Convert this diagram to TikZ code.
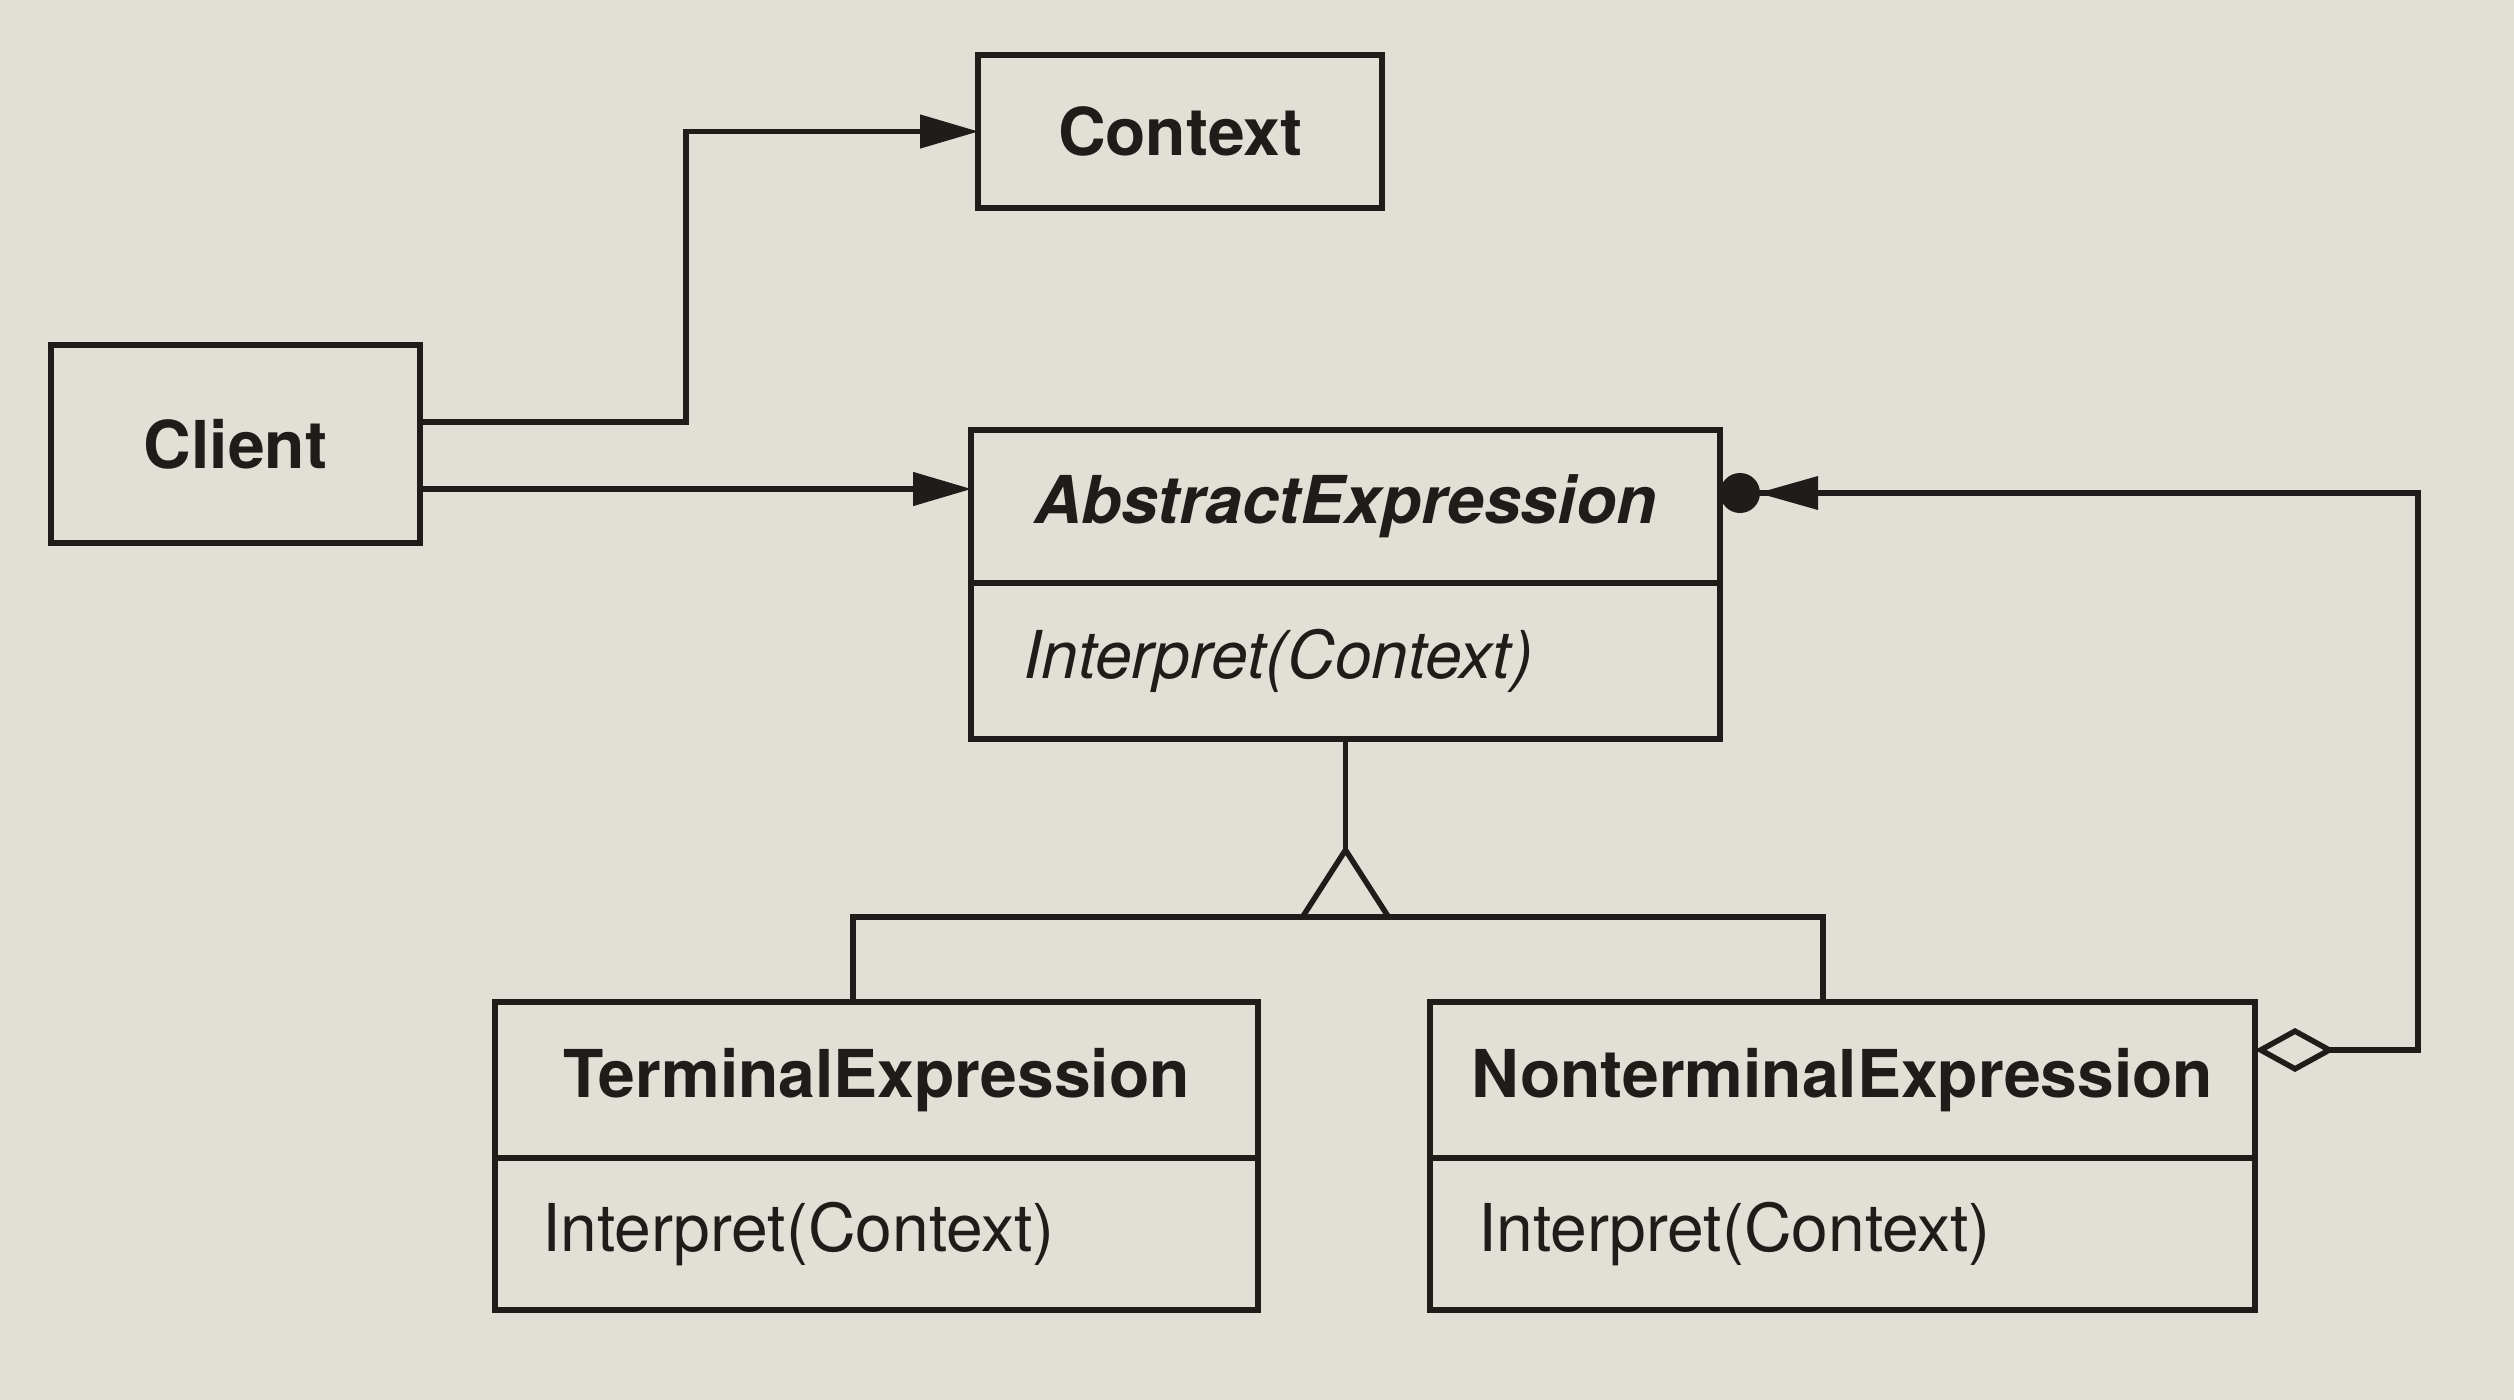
\documentclass[tikz,border=0pt]{standalone}
\usepackage{fontspec}
\setmainfont{TeX Gyre Heros}
\usetikzlibrary{arrows.meta,calc}
\definecolor{paper}{RGB}{226,223,215}
\definecolor{ink}{RGB}{32,28,26}
\begin{document}
\begin{tikzpicture}[x=1pt,y=-1pt,
 every node/.style={font=\fontsize{66}{79}\selectfont, text=ink},
 box/.style={draw=ink, line width=5.5pt, inner sep=0pt, outer sep=0pt, anchor=north west},
 conn/.style={draw=ink, line width=5.5pt},
 tip/.style={-{Triangle[length=58pt,width=34pt,line width=1pt]}},
]
\fill[paper] (0,0) rectangle (2514,1400);
\useasboundingbox (0,0) rectangle (2514,1400);

% Client and Context
\node[box, minimum width=369pt, minimum height=198pt, font=\fontsize{66}{79}\selectfont\bfseries] (Client) at (51,345) {Client};
\node[box, minimum width=404pt, minimum height=153pt, font=\fontsize{66}{79}\selectfont\bfseries] (Context) at (978,55) {Context};

% AbstractExpression
\node[box, minimum width=749pt, minimum height=153pt, font=\fontsize{66}{79}\selectfont\bfseries\itshape] (AEh) at (971,430) {AbstractExpression};
\node[box, minimum height=156pt, text width=645pt, inner xsep=52pt, align=left, font=\fontsize{66}{79}\selectfont\itshape] (AEb) at (AEh.south west) {Interpret(Context)};

% TerminalExpression
\node[box, minimum width=763pt, minimum height=156pt, font=\fontsize{66}{79}\selectfont\bfseries] (TEh) at (495,1002) {TerminalExpression};
\node[box, minimum height=152pt, text width=669pt, inner xsep=47pt, align=left] (TEb) at (TEh.south west) {Interpret(Context)};

% NonterminalExpression
\node[box, minimum width=825pt, minimum height=156pt, font=\fontsize{66}{79}\selectfont\bfseries] (NTh) at (1430,1002) {NonterminalExpression};
\node[box, minimum height=152pt, text width=729pt, inner xsep=48pt, align=left] (NTb) at (NTh.south west) {Interpret(Context)};

% Client -> Context
\coordinate (c1) at (686,422);
\draw[conn, tip] (Client.east |- c1) -- (c1) |- (Context.west);

% Client -> AbstractExpression
\coordinate (c2) at (0,489);
\draw[conn, tip] (Client.east |- c2) -- (AEh.west |- c2);

% Generalization
\coordinate (apex) at ($(AEb.south)+(0,111)$);
\coordinate (bar) at ($(apex)+(0,67)$);
\coordinate (tconn) at (853,917);
\coordinate (nconn) at (1823,917);
\draw[conn] (AEb.south) -- (apex);
\draw[conn, line join=miter] (apex) -- ($(bar)+(-43,0)$) -- ($(bar)+(43,0)$) -- cycle;
\draw[conn] (TEh.north -| tconn) -- (tconn) -- (nconn) -- (NTh.north -| nconn);

% Aggregation
\coordinate (a1) at (2418,1050);
\coordinate (a2) at (2418,493);
\draw[conn, {Diamond[open,length=80pt,width=44pt]}-] (NTh.east |- a1) -- (a1) -- (a2) -- (AEh.east |- a2);
\coordinate (aeR) at (AEh.east |- a2);
\fill[ink] ($(aeR)+(20,0)$) circle[radius=20pt];
\fill[ink] ($(aeR)+(38,0)$) -- ($(aeR)+(98,-17)$) -- ($(aeR)+(98,17)$) -- cycle;
\end{tikzpicture}
\end{document}
